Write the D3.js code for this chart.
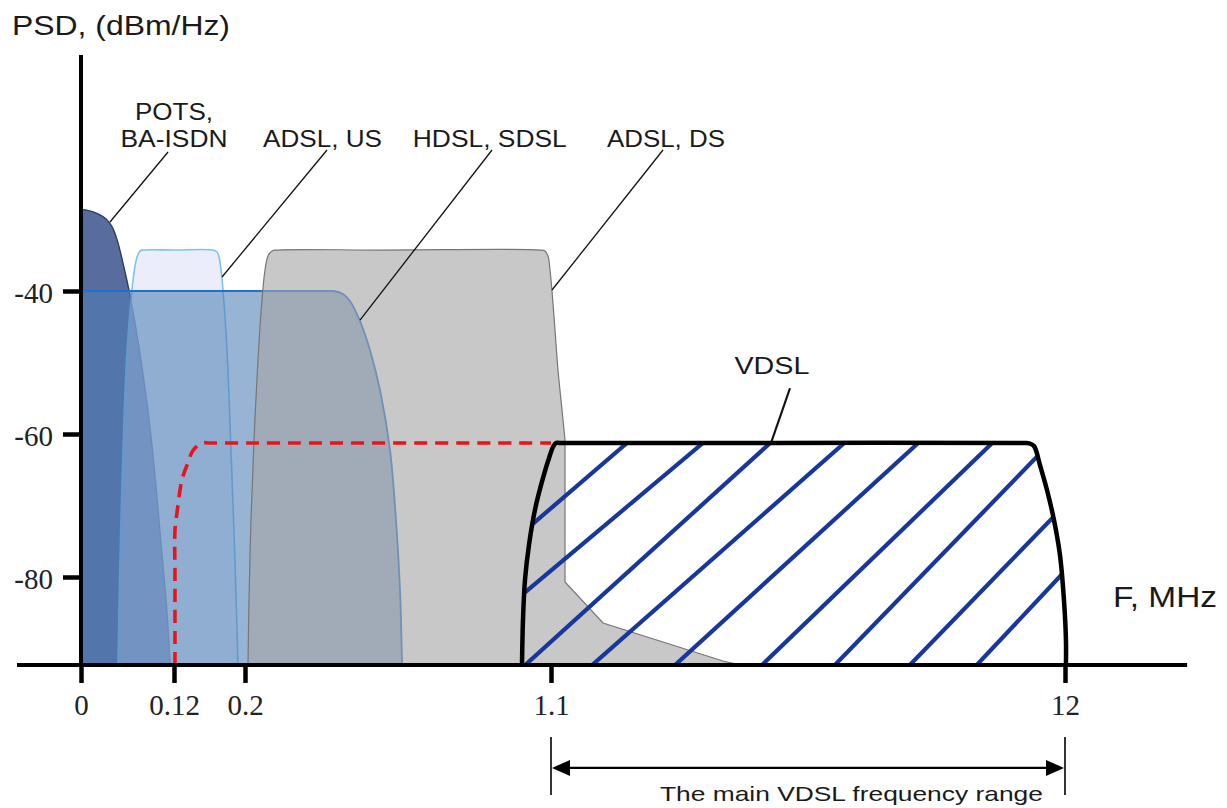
<!DOCTYPE html>
<html><head><meta charset="utf-8">
<script src="https://cdn.jsdelivr.net/npm/d3@7"></script>
<style>body{margin:0;background:#fff}svg{display:block}</style>
</head><body>
<svg id="c" width="1227" height="808"></svg>
<script>
// ---- data (frequency in MHz, PSD in dBm/Hz) ----
const fTicks = [0, 0.12, 0.2, 1.1, 12];
const fTickLabels = ["0", "0.12", "0.2", "1.1", "12"];
const psdTicks = [-40, -60, -80];
const psdTickLabels = ["-40", "-60", "-80"];
const psdFloor = -92.3;
const psdTop = -7.0;
const fAxisStart = -0.0826;
const fAxisEnd = 14.59;

const potsPsd = [[0,-92.3],[0,-50],[0,-29.5],[0,-28.7],[0.01,-28.75],[0.022,-29.2],[0.032,-29.9],[0.04,-31],[0.047,-33],[0.055,-36.5],[0.063,-40.5],[0.075,-48],[0.09,-60],[0.103,-75],[0.111,-85],[0.115,-92.3]];
const adslUsPsd = [[0.0477,-92.3],[0.0503,-77.6],[0.0542,-62.2],[0.0594,-48.25],[0.0658,-39.86],[0.0697,-36.5],[0.0723,-35.24],[0.0761,-34.41],[0.0813,-34.27],[0.12,-34.27],[0.1639,-34.27],[0.1685,-34.55],[0.1707,-35.24],[0.173,-37.06],[0.1752,-39.86],[0.1797,-48.25],[0.1842,-62.24],[0.1887,-77.62],[0.1921,-92.3]];
const hdslPsd = [[0,-92.3],[0,-60],[0,-41],[0,-40],[0.01,-40],[0.25,-40],[0.44,-40],[0.4588,-40],[0.4882,-40.42],[0.5088,-41.4],[0.5265,-42.94],[0.5441,-44.9],[0.5676,-48.25],[0.5971,-53.85],[0.6265,-62.24],[0.6441,-72.03],[0.6559,-81.82],[0.6618,-92.3]];
const adslDsPsd = [[0.2088,-92.3],[0.2118,-83.22],[0.2176,-72.03],[0.2265,-60.84],[0.2382,-49.65],[0.25,-41.26],[0.2588,-37.06],[0.2676,-35.1],[0.2794,-34.41],[0.2941,-34.27],[0.6,-34.27],[1.0676,-34.27],[1.0824,-34.41],[1.0912,-35.1],[1.0971,-37.06],[1.1212,-40],[1.1848,-45.45],[1.2484,-51.05],[1.3332,-56.64],[1.3969,-60.84]];
const adslDsTail = [[1.3969,-80.7],[2.2026,-86.43],[4.747,-91.75],[5.108,-92.3]];
const vdslPsd = [[1.0147,-92.3],[1.0176,-86],[1.0235,-80.4],[1.0353,-75.5],[1.0529,-70.6],[1.0765,-66.15],[1.0971,-62.94],[1.1424,-61.82],[1.206,-61.26],[1.2908,-61.26],[5.85,-61.26],[11.15,-61.26],[11.236,-61.3],[11.342,-61.68],[11.469,-64.34],[11.618,-67.83],[11.766,-72.03],[11.893,-76.92],[11.978,-83.22],[12.02,-88.8],[12.02,-92.3]];
const vdslMaskDash = [[0.1211,-92.3],[0.1211,-80],[0.1211,-73.5],[0.1234,-71],[0.129,-66.4],[0.1358,-64],[0.1414,-62.3],[0.1516,-61.26],[0.1606,-61.26],[0.3,-61.26],[1.1,-61.26]];
const vdslHatchTop = [2.712, 4.323, 5.75, 7.32, 8.888, 10.457, 11.687, 13.277, 14.55];
const vdslHatchBottom = [0.556, 0.762, 1.018, 1.927, 3.687, 5.532, 7.08, 8.67, 10.09];
const vdslHatchLevel = -61.26;

const labelText = ["POTS,", "BA-ISDN", "ADSL, US", "HDSL, SDSL", "ADSL, DS", "VDSL"];
const labelF = [0.12, 0.12, 0.428, 0.92, 3.538, 5.786];
const labelPsd = [-16.08, -19.86, -19.86, -19.86, -19.86, -51.6];
const labelWidth = [78, 107, 119, 154, 118, 75];
const leaderFrom = [[0.0374,-30.35],[0.1741,-38.04],[0.5382,-44.06],[1.121,-39.86],[5.765,-61.26]];
const leaderTo = [[0.1123,-20.56],[0.4412,-20.28],[0.9265,-20.28],[3.475,-20.28],[6.168,-53.6]];
const rangeF = [1.1, 12];
const rangeText = "The main VDSL frequency range";
const rangeTextF = 3.41;

// ---- scales ----
const svg = d3.select("#c");
const x = d3.scaleLinear().domain(fTicks).range([81, 174, 245, 551, 1065]);
const y = d3.scaleLinear().domain([-80, -40]).range([577, 291]);
const cr = d3.line().x(d => x(d[0])).y(d => y(d[1])).curve(d3.curveCatmullRom.alpha(0.5));
const lin = d3.line().x(d => x(d[0])).y(d => y(d[1]));
function shape(curved, straight) {
  let p = cr(curved);
  if (straight) p += lin(straight).replace(/^M/, "L");
  return p + "Z";
}
const sans = "'Liberation Sans', Arial, sans-serif";
const serif = "'Liberation Serif', 'Times New Roman', serif";

// ---- shapes ----
svg.append("path").attr("d", shape(potsPsd))
  .attr("fill", "rgb(88,108,158)").attr("stroke", "#2d3e66").attr("stroke-width", 1.4);
svg.append("path").attr("d", shape(adslUsPsd))
  .attr("fill", "rgb(222,227,247)").attr("fill-opacity", 0.6)
  .attr("stroke", "#7cc3ef").attr("stroke-width", 1.6);
svg.append("path").attr("d", shape(hdslPsd))
  .attr("fill", "rgb(77,126,181)").attr("fill-opacity", 0.58)
  .attr("stroke", "#1f6fd6").attr("stroke-width", 1.8);
svg.append("path").attr("d", shape(adslDsPsd, adslDsTail))
  .attr("fill", "rgb(165,165,165)").attr("fill-opacity", 0.61)
  .attr("stroke", "#767676").attr("stroke-width", 1.2);

// red dashed mask
svg.append("path").attr("d", cr(vdslMaskDash))
  .attr("fill", "none").attr("stroke", "#e8141c").attr("stroke-width", 3.6)
  .attr("stroke-dasharray", "13,8");

// VDSL hatching
svg.append("clipPath").attr("id", "vclip").append("path").attr("d", shape(vdslPsd));
const hatch = svg.append("g").attr("clip-path", "url(#vclip)");
vdslHatchTop.forEach((ft, i) => {
  hatch.append("line")
    .attr("x1", x(vdslHatchBottom[i])).attr("y1", y(psdFloor) + 2)
    .attr("x2", x(ft)).attr("y2", y(vdslHatchLevel))
    .attr("stroke", "#17389a").attr("stroke-width", 4.2);
});
svg.append("path").attr("d", cr(vdslPsd))
  .attr("fill", "none").attr("stroke", "#000").attr("stroke-width", 4.5)
  .attr("stroke-linejoin", "round");

// ---- leaders & labels ----
leaderFrom.forEach((p, i) => {
  svg.append("line")
    .attr("x1", x(p[0])).attr("y1", y(p[1]))
    .attr("x2", x(leaderTo[i][0])).attr("y2", y(leaderTo[i][1]))
    .attr("stroke", "#111").attr("stroke-width", i === 4 ? 2.2 : 1.3);
});
labelText.forEach((t, i) => {
  svg.append("text").text(t)
    .attr("x", x(labelF[i])).attr("y", y(labelPsd[i]))
    .attr("text-anchor", "middle")
    .attr("textLength", labelWidth[i]).attr("lengthAdjust", "spacingAndGlyphs")
    .attr("font-family", sans).attr("font-size", 24).attr("fill", "#1a1a1a");
});

// ---- axes ----
const x0 = x(0), yb = y(psdFloor);
const xAxis = d3.axisBottom(x).tickValues(fTicks).tickFormat((d, i) => fTickLabels[i]).tickSize(18);
const gx = svg.append("g").attr("transform", `translate(0,${yb})`).call(xAxis);
gx.select(".domain").remove();
gx.selectAll(".tick line").attr("stroke", "#000").attr("stroke-width", 4.5);
gx.selectAll(".tick text").attr("y", 50).attr("dy", 0)
  .attr("font-family", serif).attr("font-size", 29).attr("fill", "#222");

const yAxis = d3.axisLeft(y).tickValues(psdTicks).tickFormat((d, i) => psdTickLabels[i]).tickSize(18);
const gy = svg.append("g").attr("transform", `translate(${x0},0)`).call(yAxis);
gy.select(".domain").remove();
gy.selectAll(".tick line").attr("stroke", "#000").attr("stroke-width", 4.5);
gy.selectAll(".tick text").attr("x", -28).attr("dy", 0).attr("y", 11)
  .attr("font-family", serif).attr("font-size", 29).attr("fill", "#222");

svg.append("line").attr("x1", x0).attr("x2", x0).attr("y1", y(psdTop)).attr("y2", yb + 2)
  .attr("stroke", "#000").attr("stroke-width", 4);
svg.append("line").attr("x1", x(fAxisStart)).attr("x2", x(fAxisEnd)).attr("y1", yb).attr("y2", yb)
  .attr("stroke", "#000").attr("stroke-width", 4);

svg.append("text").text("PSD, (dBm/Hz)").attr("x", 12).attr("y", 35)
  .attr("textLength", 218).attr("lengthAdjust", "spacingAndGlyphs")
  .attr("font-family", sans).attr("font-size", 28).attr("fill", "#1a1a1a");
svg.append("text").text("F, MHz").attr("x", 1113).attr("y", 607)
  .attr("textLength", 104).attr("lengthAdjust", "spacingAndGlyphs")
  .attr("font-family", sans).attr("font-size", 29).attr("fill", "#1a1a1a");

// ---- range arrow ----
const ra = x(rangeF[0]), rb = x(rangeF[1]), ry = yb + 103;
[ra, rb].forEach(v => svg.append("line").attr("x1", v).attr("x2", v)
  .attr("y1", yb + 72).attr("y2", yb + 130).attr("stroke", "#000").attr("stroke-width", 1.6));
svg.append("line").attr("x1", ra + 10).attr("x2", rb - 10).attr("y1", ry).attr("y2", ry)
  .attr("stroke", "#000").attr("stroke-width", 2.2);
svg.append("path").attr("d", `M${ra + 1},${ry} L${ra + 19},${ry - 8} L${ra + 19},${ry + 8} Z`).attr("fill", "#000");
svg.append("path").attr("d", `M${rb - 1},${ry} L${rb - 19},${ry - 8} L${rb - 19},${ry + 8} Z`).attr("fill", "#000");
svg.append("text").text(rangeText).attr("x", x(rangeTextF)).attr("y", yb + 136)
  .attr("textLength", 383).attr("lengthAdjust", "spacingAndGlyphs")
  .attr("font-family", sans).attr("font-size", 21).attr("fill", "#1a1a1a");
</script>
</body></html>
